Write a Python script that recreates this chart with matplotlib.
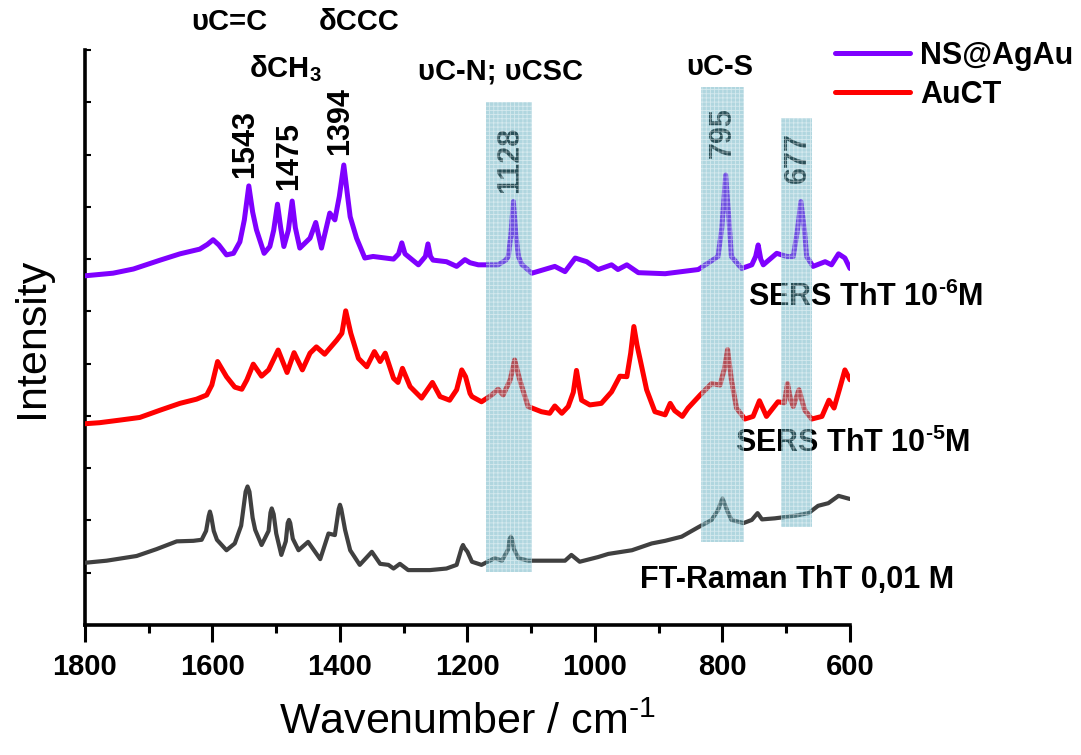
import matplotlib
matplotlib.use("Agg")
import matplotlib.pyplot as plt
from matplotlib.ticker import MultipleLocator, NullFormatter

plt.rcParams['font.family'] = ['Liberation Sans', 'DejaVu Sans']
plt.rcParams['mathtext.default'] = 'regular'
plt.rcParams['hatch.linewidth'] = 0.6

# ---- spectra (wavenumber / cm-1, offset intensity / a.u.) ----
ns_wn = [1800, 1756, 1724, 1682, 1651, 1620, 1608, 1599, 1590, 1578, 1567, 1557,
         1550, 1543, 1537, 1531, 1519, 1510, 1504, 1498, 1493, 1488, 1481, 1475,
         1470, 1463, 1447, 1438, 1429, 1416, 1408, 1401, 1394, 1388, 1384, 1374,
         1361, 1348, 1316, 1308, 1303, 1298, 1293, 1277, 1266, 1262, 1258, 1254,
         1233, 1217, 1204, 1196, 1183, 1152, 1140, 1136, 1132, 1128, 1124, 1120,
         1115, 1099, 1063, 1047, 1031, 1013, 995, 974, 964, 950, 932, 890, 838,
         807, 801, 795, 789, 786, 770, 754, 748, 744, 740, 736, 715, 699, 689,
         683, 677, 671, 668, 658, 639, 629, 618, 608, 600]
ns_int = [6.68, 6.73, 6.81, 6.98, 7.10, 7.19, 7.28, 7.37, 7.27, 7.08, 7.11, 7.33,
          7.75, 8.40, 7.90, 7.56, 7.11, 7.24, 7.55, 8.05, 7.60, 7.24, 7.55, 8.11,
          7.60, 7.21, 7.40, 7.70, 7.21, 7.88, 7.75, 8.20, 8.80, 8.20, 7.81, 7.40,
          7.02, 7.05, 7.00, 7.10, 7.31, 7.10, 7.05, 6.89, 7.05, 7.29, 7.05, 6.98,
          6.95, 6.86, 6.99, 6.93, 6.89, 6.89, 6.98, 7.05, 7.45, 8.10, 7.45, 7.05,
          6.90, 6.73, 6.86, 6.76, 7.02, 6.95, 6.80, 6.89, 6.80, 6.89, 6.74, 6.72, 6.80,
          7.05, 7.60, 8.61, 7.60, 7.05, 6.82, 6.89, 7.05, 7.27, 7.00, 6.89, 7.11, 7.05, 7.05,
          7.50, 8.10, 7.50, 7.05, 6.86, 6.95, 6.89, 7.10, 7.02, 6.82]

au_wn = [1800, 1777, 1745, 1714, 1682, 1651, 1625, 1609, 1601, 1592, 1578, 1565,
         1554, 1546, 1536, 1523, 1512, 1497, 1483, 1472, 1459, 1447, 1437, 1424,
         1405, 1397, 1391, 1383, 1371, 1358, 1346, 1337, 1329, 1316, 1309, 1302,
         1290, 1272, 1255, 1243, 1228, 1217, 1209, 1203, 1196, 1193, 1178, 1162,
         1152, 1144, 1133, 1126, 1118, 1105, 1084, 1071, 1063, 1052, 1042, 1034,
         1029, 1024, 1021, 1008, 990, 974, 961, 950, 944, 939, 934, 929, 919, 906,
         890, 882, 875, 863, 854, 835, 817, 804, 797, 792, 786, 778, 765, 752, 742,
         731, 713, 703, 698, 693, 689, 680, 671, 660, 644, 633, 625, 616, 608, 600]
au_int = [3.85, 3.87, 3.92, 3.97, 4.11, 4.24, 4.32, 4.40, 4.59, 5.04, 4.75, 4.55,
          4.51, 4.69, 4.99, 4.76, 4.88, 5.26, 4.83, 5.21, 4.88, 5.20, 5.32, 5.18,
          5.45, 5.58, 6.01, 5.58, 5.10, 4.94, 5.23, 5.04, 5.20, 4.72, 4.64, 4.91,
          4.56, 4.34, 4.64, 4.37, 4.30, 4.50, 4.88, 4.75, 4.43, 4.37, 4.27, 4.40,
          4.51, 4.40, 4.69, 5.07, 4.69, 4.18, 4.08, 4.05, 4.19, 4.05, 4.18, 4.45,
          4.87, 4.50, 4.30, 4.21, 4.24, 4.46, 4.76, 4.75, 5.20, 5.71, 5.35, 5.07, 4.50, 4.08,
          4.02, 4.24, 4.10, 3.99, 4.15, 4.40, 4.62, 4.59, 4.90, 5.27, 4.69, 4.15, 3.94, 3.99, 4.29,
          3.99, 4.27, 4.25, 4.62, 4.30, 4.18, 4.50, 4.11, 3.94, 3.99, 4.30, 4.15, 4.53, 4.88, 4.69]

ft_wn = [1800, 1766, 1719, 1688, 1656, 1630, 1617, 1610, 1606, 1604, 1602, 1598,
         1593, 1578, 1565, 1555, 1548, 1545, 1542, 1537, 1533, 1523, 1512, 1509,
         1507, 1504, 1500, 1492, 1485, 1482, 1480, 1478, 1474, 1465, 1450, 1431,
         1418, 1408, 1402, 1400, 1398, 1392, 1384, 1369, 1350, 1337, 1324, 1316,
         1306, 1293, 1259, 1233, 1217, 1209, 1207, 1205, 1200, 1193, 1178, 1157,
         1146, 1136, 1134, 1132, 1130, 1127, 1120, 1105, 1068, 1047, 1037, 1024,
         995, 979, 942, 911, 890, 864, 838, 817, 807, 802, 800, 798, 792, 786,
         767, 754, 745, 738, 718, 686, 665, 650, 634, 618, 603, 600]
ft_int = [1.19, 1.23, 1.32, 1.45, 1.60, 1.61, 1.63, 1.80, 2.08, 2.17, 2.08, 1.80,
          1.63, 1.43, 1.56, 1.90, 2.55, 2.65, 2.55, 2.05, 1.82, 1.53, 1.80, 2.15,
          2.23, 2.12, 1.75, 1.34, 1.60, 1.95, 2.01, 1.95, 1.65, 1.43, 1.59, 1.26,
          1.75, 1.72, 2.22, 2.30, 2.22, 1.82, 1.43, 1.15, 1.40, 1.17, 1.15, 1.08,
          1.17, 1.05, 1.05, 1.08, 1.15, 1.48, 1.53, 1.48, 1.40, 1.21, 1.15, 1.28,
          1.23, 1.45, 1.64, 1.69, 1.64, 1.45, 1.28, 1.23, 1.23, 1.23, 1.34, 1.21,
          1.30, 1.36, 1.43, 1.56, 1.61, 1.69, 1.87, 2.01, 2.20, 2.36, 2.42, 2.36, 2.17, 2.01,
          1.95, 2.01, 2.14, 2.02, 2.04, 2.09, 2.14, 2.28, 2.33, 2.47, 2.42, 2.41]

# ---- peak labels and highlighted bands ----
peak_labels = ['1543', '1475', '1394', '1128', '795', '677']
peak_label_pos = [1543, 1475, 1394, 1128, 795, 677]
peak_label_base = [8.55, 8.32, 8.99, 8.26, 8.93, 8.46]

band_left = [1171, 834, 708]
band_right = [1099, 766, 660]
band_bottom = [1.02, 1.59, 1.88]
band_top = [10.01, 10.29, 9.70]

PURPLE = '#7f00ff'
RED = '#ff0000'
GREY = '#404040'
HYPHEN = '\u2010'

fig = plt.figure(figsize=(10.81, 7.55), dpi=100)
ax = fig.add_axes([0.0786, 0.1722, 0.7077, 0.7616])

line_kw = dict(solid_joinstyle='round', solid_capstyle='round', zorder=3)
ax.plot(ns_wn, ns_int, color=PURPLE, lw=3.6, label='NS@AgAu', **line_kw)
ax.plot(au_wn, au_int, color=RED, lw=3.6, label='AuCT', **line_kw)
ax.plot(ft_wn, ft_int, color=GREY, lw=3.0, label='_nolegend_', **line_kw)

ax.set_xlim(1800, 600)
ax.set_ylim(0, 11)

# rotated peak positions
for lab, x, y in zip(peak_labels, peak_label_pos, peak_label_base):
    ax.text(x + 5, y, lab, rotation=90, ha='center', va='bottom',
            fontsize=22, fontweight='bold', zorder=4)

# band assignments
bold = dict(fontsize=21, fontweight='bold', ha='center', va='center', clip_on=False)
ax.text(1573, 11.54, 'υC=C', **bold)
ax.text(1486, 10.64, 'δCH$_{\\mathregular{3}}$', **bold)
ax.text(1370, 11.54, 'δCCC', **bold)
ax.text(1148, 10.58, 'υC-N; υCSC', **bold)
ax.text(804, 10.68, 'υC-S', **bold)

# sample captions
cap = dict(fontsize=22, fontweight='bold', ha='left', va='center', clip_on=False)
ax.text(760, 6.26, 'SERS ThT 10$^{\\mathregular{%s6}}$M' % HYPHEN, **cap)
ax.text(780, 3.48, 'SERS ThT 10$^{\\mathregular{%s5}}$M' % HYPHEN, **cap)
ax.text(929, 0.86, 'FT-Raman ThT 0,01 M', **cap)

# highlighted bands, drawn over the spectra
widths = [r - l for l, r in zip(band_left, band_right)]
heights = [t - b for b, t in zip(band_bottom, band_top)]
ax.bar(band_left, heights, width=widths, bottom=band_bottom, align='edge',
       color='#58a9bb', alpha=0.47, edgecolor='white', linewidth=0,
       hatch='++++', zorder=5)

# axes styling
for side in ('top', 'right'):
    ax.spines[side].set_visible(False)
for side in ('left', 'bottom'):
    ax.spines[side].set_linewidth(2.6)

ax.xaxis.set_major_locator(MultipleLocator(200))
ax.xaxis.set_minor_locator(MultipleLocator(100))
ax.yaxis.set_major_locator(MultipleLocator(1))
ax.yaxis.set_major_formatter(NullFormatter())
ax.tick_params(axis='x', which='major', direction='out', length=12, width=2.2,
               labelsize=21, pad=8)
ax.tick_params(axis='x', which='minor', direction='out', length=6, width=2.2)
ax.tick_params(axis='y', which='major', direction='in', length=4, width=1.5)
for t in ax.get_xticklabels():
    t.set_fontweight('bold')

ax.set_xlabel('Wavenumber / cm$^{\\mathregular{%s1}}$' % HYPHEN, fontsize=31, labelpad=16)
ax.set_ylabel('Intensity', fontsize=31, labelpad=20)

fig.legend(loc='upper left', bbox_to_anchor=(0.7724, 0.946), frameon=False,
           prop={'weight': 'bold', 'size': 22}, handlelength=2.45,
           handletextpad=0.33, labelspacing=0.3, borderpad=0, borderaxespad=0)

fig.savefig('out.png', dpi=100)
